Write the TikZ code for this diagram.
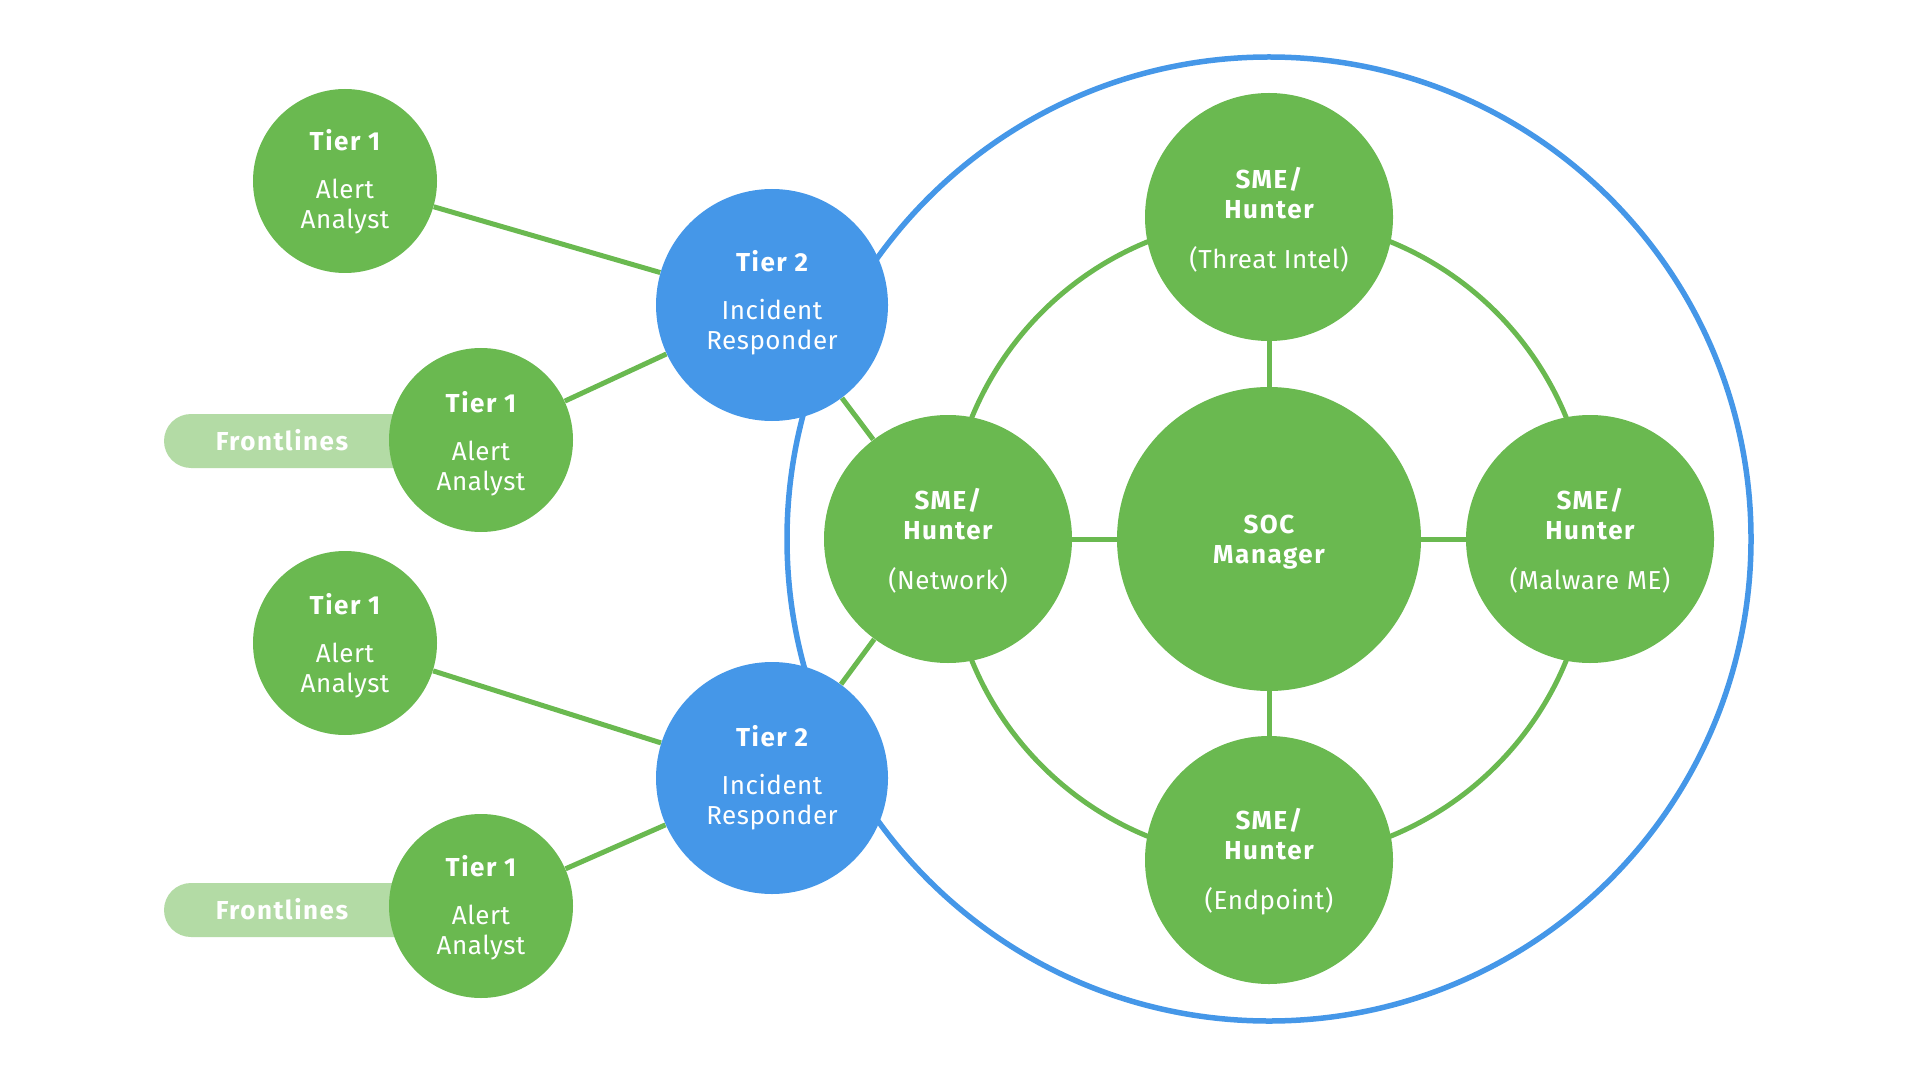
\documentclass[tikz,border=0pt]{standalone}
\usepackage{fontspec}
\setmainfont{Fira Sans}[LetterSpace=2,BoldFeatures={LetterSpace=6}]
\usetikzlibrary{backgrounds}
\definecolor{sgreen}{HTML}{6AB950}
\definecolor{sblue}{HTML}{4597E8}
\definecolor{lgreen}{HTML}{B3DBA5}
\begin{document}
\begin{tikzpicture}[x=0.5pt,y=-0.5pt,
  gcirc/.style={circle,fill=sgreen,inner sep=0pt,minimum size=#1},
  bcirc/.style={circle,fill=sblue,inner sep=0pt,minimum size=#1},
  txt/.style={text=white,align=center,font=\fontsize{13}{15}\selectfont,inner sep=0pt},
  gline/.style={draw=sgreen,line width=2.5pt},
  bline/.style={draw=sblue,line width=2.75pt},
  pill/.style={fill=lgreen,rounded corners=13.5pt,minimum width=158.5pt,minimum height=27pt,inner sep=0pt}
]
\useasboundingbox (0,0) rectangle (1920,1080);
\coordinate (ctr) at (1269,539);
% circles
\node[gcirc=152pt] (soc) at (1269,539) {};
\node[gcirc=124pt] (smeT) at (1269,217) {};
\node[gcirc=124pt] (smeN) at (948,539) {};
\node[gcirc=124pt] (smeM) at (1590,539) {};
\node[gcirc=124pt] (smeE) at (1269,860) {};
\node[bcirc=116pt] (t2a) at (772,305) {};
\node[bcirc=116pt] (t2b) at (772,778) {};
\node[gcirc=92pt] (t1a) at (345,181) {};
\node[gcirc=92pt] (t1b) at (481,440) {};
\node[gcirc=92pt] (t1c) at (345,643) {};
\node[gcirc=92pt] (t1d) at (481,906) {};
% texts
\node[txt] (soc-l) at (1269,542) {\bfseries SOC\\\bfseries Manager};
\node[txt] (smeT-l) at (1269,219.5) {\bfseries SME/\\\bfseries Hunter\\[10pt](Threat Intel)};
\node[txt] (smeN-l) at (948,541) {\bfseries SME/\\\bfseries Hunter\\[10pt](Network)};
\node[txt] (smeM-l) at (1590,541) {\bfseries SME/\\\bfseries Hunter\\[10pt](Malware ME)};
\node[txt] (smeE-l) at (1269,862) {\bfseries SME/\\\bfseries Hunter\\[10pt](Endpoint)};
\node[txt] (t2a-l) at (772,303) {\bfseries Tier 2\\[9pt]Incident\\Responder};
\node[txt] (t2b-l) at (772,778) {\bfseries Tier 2\\[9pt]Incident\\Responder};
\node[txt] (t1a-l) at (345,181.5) {\bfseries Tier 1\\[9pt]Alert\\Analyst};
\node[txt] (t1b-l) at (481,443.5) {\bfseries Tier 1\\[9pt]Alert\\Analyst};
\node[txt] (t1c-l) at (345,645.5) {\bfseries Tier 1\\[9pt]Alert\\Analyst};
\node[txt] (t1d-l) at (481,907.5) {\bfseries Tier 1\\[9pt]Alert\\Analyst};
\node[txt] (fl1) at (282,440) {\bfseries Frontlines};
\node[txt] (fl2) at (282,909) {\bfseries Frontlines};
\begin{pgfonlayer}{background}
  \node[pill] (p1) at (322.5,441) {};
  \node[pill] (p2) at (322.5,910) {};
  \draw[bline] (ctr) circle[radius=241pt];
  \draw[gline] (ctr) circle[radius=160.5pt];
  \draw[gline] (soc) -- (smeT);
  \draw[gline] (soc) -- (smeN);
  \draw[gline] (soc) -- (smeM);
  \draw[gline] (soc) -- (smeE);
  \draw[gline] (t2a) -- (smeN);
  \draw[gline] (t2b) -- (smeN);
  \draw[gline] (t1a) -- (t2a);
  \draw[gline] (t1b) -- (t2a);
  \draw[gline] (t1c) -- (t2b);
  \draw[gline] (t1d) -- (t2b);
\end{pgfonlayer}
\end{tikzpicture}
\end{document}
